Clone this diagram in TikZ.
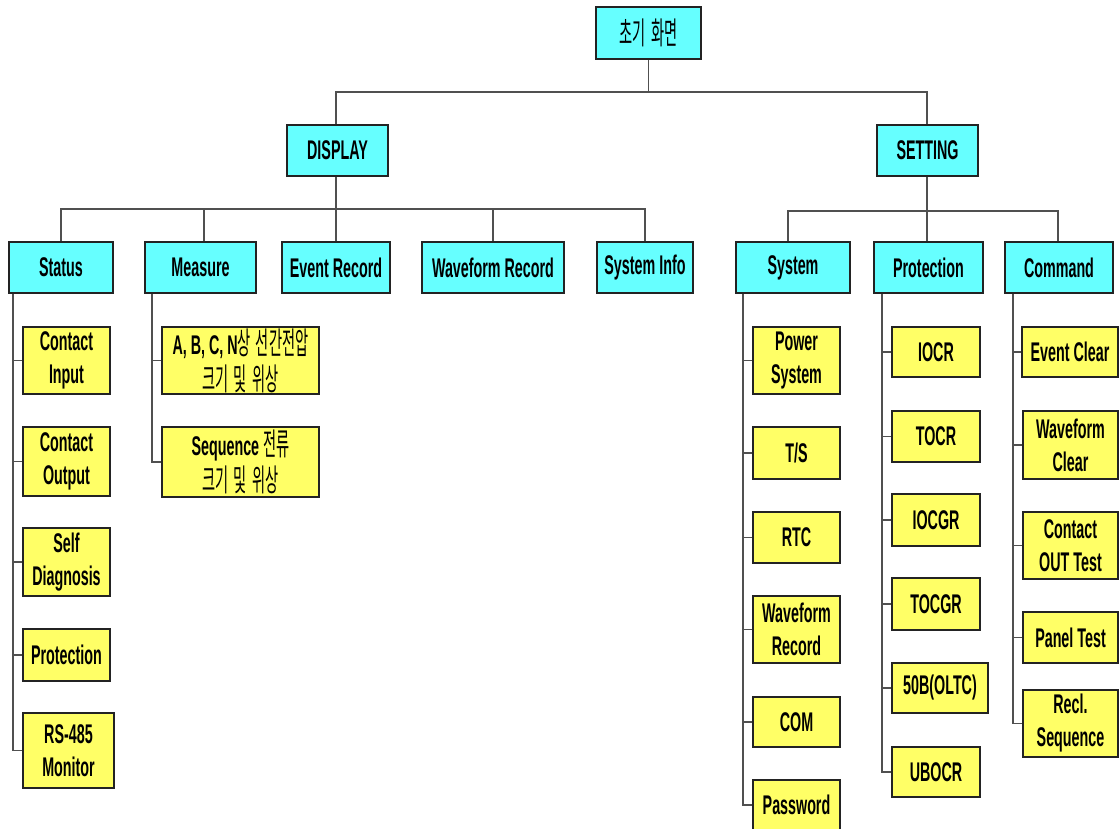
\documentclass[tikz,border=0pt]{standalone}
\usepackage{fontspec}
\setmainfont{Liberation Sans}[FakeStretch=0.53]
\newfontfamily\kr{Noto Sans CJK KR}[FakeStretch=0.46,WordSpace=1.6]
\definecolor{cy}{RGB}{102,255,255}
\definecolor{yl}{RGB}{255,255,102}
\definecolor{ln}{RGB}{80,80,80}
\definecolor{bd}{RGB}{35,35,35}
\newcommand{\fs}{\fontsize{27}{33}\selectfont\bfseries}
\newcommand{\kk}{\mdseries\kr\fontsize{31}{33}\selectfont}
\newcommand\bxn[7]{\node[#1, minimum width={#4-#3}, minimum height={#6-#5}] (#2) at ({(#3+#4)/2},{(#5+#6)/2}) {#7};}
\begin{document}
\begin{tikzpicture}[x=1pt,y=-1pt,
  bx/.style={draw=bd, line width=1.5pt, inner sep=0pt, align=center, font=\fs},
  cbox/.style={bx, fill=cy},
  ybox/.style={bx, fill=yl},
  conn/.style={draw=ln, line width=1.8pt}]
\useasboundingbox (0,0) rectangle (1119,829);
% top levels
\bxn{cbox}{root}{596}{701}{7}{59}{\kk 초기 화면}
\bxn{cbox}{disp}{287}{388}{125}{176}{DISPLAY}
\bxn{cbox}{set}{877}{978}{125}{176}{SETTING}
% display children
\bxn{cbox}{st}{9}{113}{242}{293}{Status}
\bxn{cbox}{ms}{145}{256}{242}{293}{Measure}
\bxn{cbox}{er}{282}{390}{242}{293}{Event Record}
\bxn{cbox}{wr}{422}{564}{242}{293}{Waveform Record}
\bxn{cbox}{si}{597}{693}{242}{293}{System Info}
% setting children
\bxn{cbox}{sys}{736}{850}{242}{293}{System}
\bxn{cbox}{pro}{874}{983}{242}{293}{Protection}
\bxn{cbox}{cmd}{1005}{1113}{242}{293}{Command}
% status leaves
\bxn{ybox}{ci}{23}{110}{327}{394}{Contact\\Input}
\bxn{ybox}{co}{23}{110}{427}{496}{Contact\\Output}
\bxn{ybox}{sd}{23}{110}{528}{596}{Self\\Diagnosis}
\bxn{ybox}{sp}{23}{110}{629}{681}{Protection}
\bxn{ybox}{rs}{23}{114}{713}{788}{RS-485\\Monitor}
% measure leaves
\bxn{ybox}{abc}{162}{319}{327}{394}{A, B, C, N{\kk 상 선간전압}\\[3pt]{\kk 크기 및 위상}}
\bxn{ybox}{seq}{162}{319}{427}{497}{Sequence {\kk 전류}\\[3pt]{\kk 크기 및 위상}}
% system leaves
\bxn{ybox}{ps}{753}{840}{327}{394}{Power\\System}
\bxn{ybox}{ts}{753}{840}{427}{479}{T/S}
\bxn{ybox}{rtc}{753}{840}{512}{563}{RTC}
\bxn{ybox}{swr}{753}{840}{596}{663}{Waveform\\Record}
\bxn{ybox}{com}{753}{840}{697}{747}{COM}
\bxn{ybox}{pw}{753}{840}{780}{830}{Password}
% protection leaves
\bxn{ybox}{iocr}{892}{980}{327}{377}{IOCR}
\bxn{ybox}{tocr}{892}{980}{411}{462}{TOCR}
\bxn{ybox}{iocgr}{892}{980}{494}{546}{IOCGR}
\bxn{ybox}{tocgr}{892}{980}{578}{630}{TOCGR}
\bxn{ybox}{oltc}{892}{988}{663}{713}{50B(OLTC)}
\bxn{ybox}{ubocr}{892}{980}{747}{797}{UBOCR}
% command leaves
\bxn{ybox}{ec}{1022}{1118}{327}{377}{Event Clear}
\bxn{ybox}{wc}{1023}{1118}{411}{479}{Waveform\\Clear}
\bxn{ybox}{cot}{1023}{1118}{512}{579}{Contact\\OUT Test}
\bxn{ybox}{pt}{1023}{1118}{612}{663}{Panel Test}
\bxn{ybox}{rcl}{1023}{1118}{690}{757}{Recl.\\Sequence}
% connectors: top
\coordinate (j1) at (0,92);
\coordinate (j2) at (0,209);
\coordinate (j3) at (0,211);
\draw[conn] (root.south) -- (root.south |- j1);
\draw[conn] ([xshift=-1.5pt]disp.north) |- ([xshift=-0.5pt]set.north |- j1) -- ([xshift=-0.5pt]set.north);
% display branch
\draw[conn] ([xshift=-1.5pt]disp.south) -- ([xshift=-1.5pt]disp.south |- j2);
\draw[conn] (st.north) |- (si.north |- j2) -- (si.north);
\draw[conn] ([xshift=3.5pt]ms.north) -- ([xshift=3.5pt]ms.north |- j2);
\draw[conn] (er.north) -- (er.north |- j2);
\draw[conn] (wr.north) -- (wr.north |- j2);
% setting branch
\draw[conn] ([xshift=-0.5pt]set.south) -- ([xshift=-0.5pt]set.south |- j3);
\draw[conn] ([xshift=-5pt]sys.north) |- ([xshift=-1pt]cmd.north |- j3) -- ([xshift=-1pt]cmd.north);
\draw[conn] ([xshift=-1.5pt]pro.north) -- ([xshift=-1.5pt]pro.north |- j3);
% spines
\foreach \n in {ci,co,sd,sp,rs} \draw[conn] ([xshift=5pt]st.south west) |- (\n.west);
\foreach \n in {abc,seq} \draw[conn] ([xshift=8pt]ms.south west) |- (\n.west);
\foreach \n in {ps,ts,rtc,swr,com,pw} \draw[conn] ([xshift=8pt]sys.south west) |- (\n.west);
\foreach \n in {iocr,tocr,iocgr,tocgr,oltc,ubocr} \draw[conn] ([xshift=9pt]pro.south west) |- (\n.west);
\foreach \n in {ec,wc,cot,pt,rcl} \draw[conn] ([xshift=9pt]cmd.south west) |- (\n.west);
\end{tikzpicture}
\end{document}
